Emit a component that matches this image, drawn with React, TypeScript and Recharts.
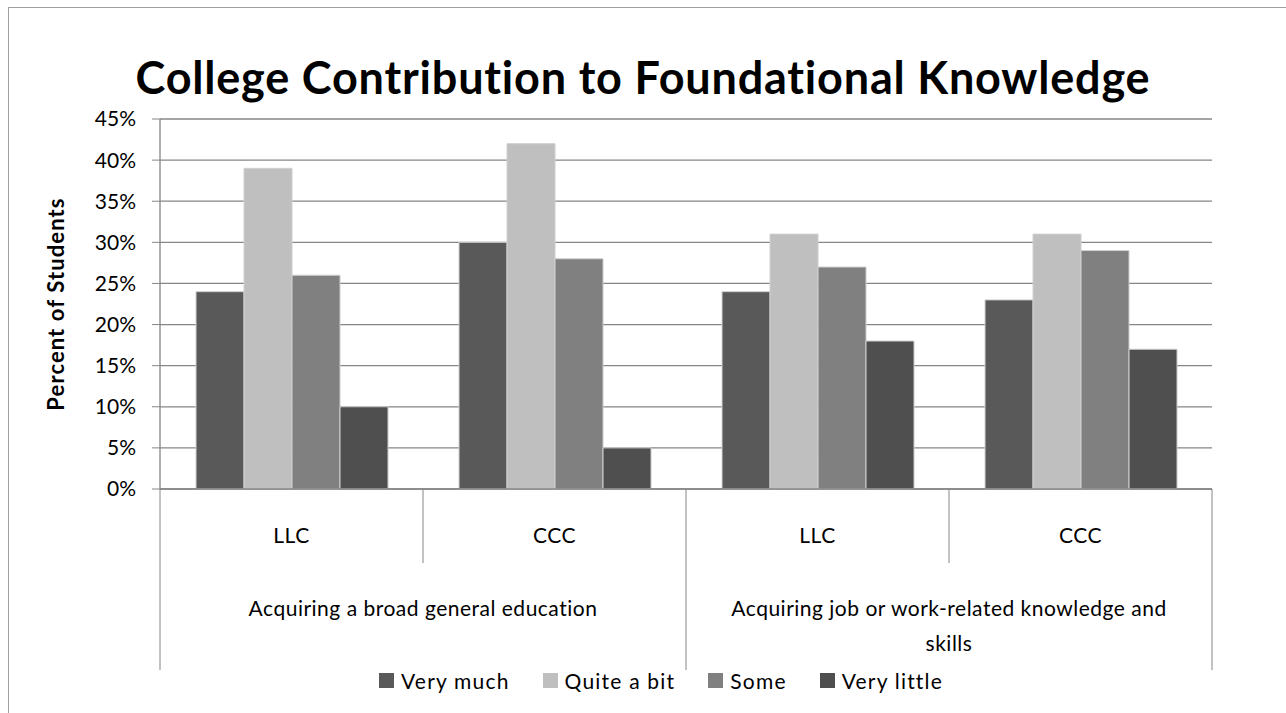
import { BarChart, Bar, XAxis, YAxis, CartesianGrid, Legend } from "recharts";

const categories = ["LLC", "CCC", "LLC", "CCC"];
const groups = [
  "Acquiring a broad general education",
  "Acquiring job or work-related knowledge and skills",
];
const veryMuch = [24, 30, 24, 23];
const quiteABit = [39, 42, 31, 31];
const some = [26, 28, 27, 29];
const veryLittle = [10, 5, 18, 17];
const yTicks = [0, 5, 10, 15, 20, 25, 30, 35, 40, 45];

const series = [
  { key: "veryMuch", name: "Very much", color: "#595959" },
  { key: "quiteABit", name: "Quite a bit", color: "#bfbfbf" },
  { key: "some", name: "Some", color: "#808080" },
  { key: "veryLittle", name: "Very little", color: "#4f4f4f" },
];

const data = categories.map((sub, i) => ({
  idx: i,
  sub,
  veryMuch: veryMuch[i],
  quiteABit: quiteABit[i],
  some: some[i],
  veryLittle: veryLittle[i],
}));

const W = 1286;
const H = 713;
const margin = { top: 119, right: 74, bottom: 22, left: 20 };
const Y_AXIS_W = 140;
const BAND = (W - margin.left - margin.right - Y_AXIS_W) / categories.length;
const FONT = "Lato, 'Open Sans', sans-serif";
const AXIS = "#868686";
const LABEL_SIZE = 21;
const LABEL_SPACING = 0.5;
const labelStyle = { fontSize: LABEL_SIZE, fontFamily: FONT, letterSpacing: LABEL_SPACING };

// simple word wrap using canvas text metrics
function wrap(text: string, maxWidth: number): string[] {
  const ctx = document.createElement("canvas").getContext("2d");
  if (!ctx) return [text];
  ctx.font = `${LABEL_SIZE}px ${FONT}`;
  const measure = (s: string) => ctx.measureText(s).width + s.length * LABEL_SPACING;
  const lines: string[] = [];
  let cur = "";
  for (const w of text.split(" ")) {
    const next = cur ? `${cur} ${w}` : w;
    if (cur && measure(next) > maxWidth) {
      lines.push(cur);
      cur = w;
    } else cur = next;
  }
  if (cur) lines.push(cur);
  return lines;
}

// two-level category axis: sub label + group label with separator lines
function CategoryTick(props: any) {
  const { x, y, payload } = props;
  const i = payload.value as number;
  const half = BAND / 2;
  const groupStart = i % 2 === 0;
  const last = i === categories.length - 1;
  const lines = groupStart ? wrap(groups[i / 2], 450) : [];
  return (
    <g>
      <line x1={x - half} x2={x - half} y1={y} y2={y + (groupStart ? 181 : 74)} stroke={AXIS} />
      {last && <line x1={x + half} x2={x + half} y1={y} y2={y + 181} stroke={AXIS} />}
      <text x={x} y={y + 45} textAnchor="middle" dominantBaseline="central" fill="#000" style={labelStyle}>
        {categories[i]}
      </text>
      {lines.map((ln, k) => (
        <text key={k} x={x + half} y={y + 118 + k * 35} textAnchor="middle" dominantBaseline="central" fill="#000" style={labelStyle}>
          {ln}
        </text>
      ))}
    </g>
  );
}

function LegendContent() {
  return (
    <div style={{ display: "flex", justifyContent: "flex-start", paddingLeft: 359, gap: 33, height: 22, alignItems: "center", fontFamily: FONT, fontSize: 21, letterSpacing: 1.2 }}>
      {series.map((s) => (
        <div key={s.key} style={{ display: "flex", alignItems: "center" }}>
          <span style={{ width: 15, height: 15, background: s.color, display: "inline-block", marginRight: 7 }} />
          <span style={{ color: "#000" }}>{s.name}</span>
        </div>
      ))}
    </div>
  );
}

export default function App() {
  return (
    <div style={{ position: "absolute", left: 0, top: 0, width: W, height: H, overflow: "hidden", background: "#fff", fontFamily: FONT }}>
      {/* chart frame */}
      <div style={{ position: "absolute", left: 8, top: 7, width: W + 20, height: H + 20, border: "1px solid #a0a0a0" }} />
      <div style={{ position: "absolute", left: 0, top: 47, width: W, textAlign: "center", fontSize: 45, fontWeight: 700, letterSpacing: 0.8, color: "#000", lineHeight: "60px" }}>
        College Contribution to Foundational Knowledge
      </div>
      <div style={{ position: "absolute", left: 0, top: 0 }}>
        <BarChart width={W} height={H} data={data} margin={margin} barCategoryGap="13.7%" barGap={0}>
          <CartesianGrid vertical={false} stroke={AXIS} strokeWidth={1.3} />
          <XAxis
            dataKey="idx"
            tick={<CategoryTick />}
            tickLine={false}
            tickSize={0}
            tickMargin={0}
            height={180}
            axisLine={{ stroke: AXIS, strokeWidth: 1.3 }}
            interval={0}
          />
          <YAxis
            domain={[0, 45]}
            ticks={yTicks}
            width={Y_AXIS_W}
            tickFormatter={(v) => `${v}%`}
            tickSize={8}
            tickMargin={16}
            axisLine={{ stroke: AXIS, strokeWidth: 1.3 }}
            tickLine={{ stroke: AXIS }}
            tick={{ fill: "#000", fontSize: 21, fontFamily: FONT }}
            label={{
              content: ({ viewBox }: any) => {
                const cy = viewBox.y + viewBox.height / 2;
                return (
                  <text x={55} y={cy} transform={`rotate(-90, 55, ${cy})`} textAnchor="middle" dominantBaseline="central" fontSize={22} fontWeight={700} fontFamily={FONT} letterSpacing={1.1} fill="#000">
                    Percent of Students
                  </text>
                );
              },
            }}
          />
          <Legend verticalAlign="bottom" height={22} content={<LegendContent />} />
          {series.map((s) => (
            <Bar key={s.key} dataKey={s.key} name={s.name} fill={s.color} stroke="#cfcfcf" strokeWidth={1} isAnimationActive={false} />
          ))}
        </BarChart>
      </div>
    </div>
  );
}
